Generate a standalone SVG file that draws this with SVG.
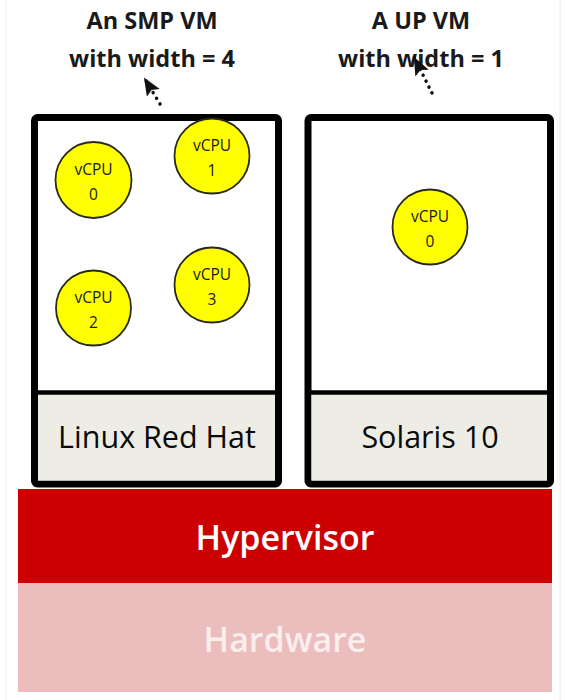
<svg xmlns="http://www.w3.org/2000/svg" width="565" height="700" viewBox="0 0 565 700">
  <style>
    .vm { fill: #ffffff; stroke: #000000; stroke-width: 7; }
    .os { fill: #eeede5; }
    .div { stroke: #000000; stroke-width: 4.5; }
    .cpu { fill: #ffff00; stroke: #2a2a1a; stroke-width: 1.8; }
    .cpuT { font-family: "Open Sans", "Liberation Sans", sans-serif; font-size: 15.5px; fill: #1a1a1a; text-anchor: middle; }
    .lbl { font-family: "Open Sans", "Liberation Sans", sans-serif; font-size: 23.5px; font-weight: 700; fill: #1a1a1a; text-anchor: middle; }
    .osT { font-family: "Open Sans", "Liberation Sans", sans-serif; font-size: 30.5px; fill: #0a0a0a; text-anchor: middle; }
    .layerT { font-family: "Open Sans", "Liberation Sans", sans-serif; font-size: 34px; font-weight: 600; text-anchor: middle; }
    .dots { fill: none; stroke: #111111; stroke-width: 3.5; stroke-linecap: round; stroke-dasharray: 0.1 6.5; }
  </style>
  <defs>
    <marker id="head" markerUnits="userSpaceOnUse" markerWidth="20" markerHeight="18" refX="18" refY="9" orient="auto">
      <path d="M0,1.5 L18,9 L0,16.5 L3.5,9 Z" fill="#111111"/>
    </marker>
  </defs>

  <rect x="0" y="0" width="565" height="700" fill="#ffffff"/>
  <line x1="6" y1="0" x2="6" y2="700" stroke="#ececec" stroke-width="1"/>
  <line x1="560" y1="0" x2="560" y2="700" stroke="#ececec" stroke-width="1"/>

  <g id="label-smp">
    <text class="lbl" x="152" y="29">An SMP VM</text>
    <text class="lbl" x="152" y="67">with width = 4</text>
  </g>
  <g id="label-up">
    <text class="lbl" x="421" y="29">A UP VM</text>
    <text class="lbl" x="421" y="67">with width = 1</text>
  </g>

  <g id="vm-smp">
    <rect class="vm" x="34.5" y="117.5" width="244" height="366.5" rx="3"/>
    <rect class="os" x="38" y="392.5" width="237" height="88"/>
    <line class="div" x1="36" y1="392.5" x2="277" y2="392.5"/>
    <text class="osT" x="157" y="448">Linux Red Hat</text>
  </g>

  <g id="vm-up">
    <rect class="vm" x="308" y="117.5" width="242.5" height="366.5" rx="3"/>
    <rect class="os" x="311.5" y="392.5" width="235.5" height="88"/>
    <line class="div" x1="310" y1="392.5" x2="549" y2="392.5"/>
    <text class="osT" x="430" y="448">Solaris 10</text>
  </g>

  <g id="vcpu0-smp">
    <circle class="cpu" cx="93.5" cy="180" r="38"/>
    <text class="cpuT" x="93.5" y="175">vCPU</text>
    <text class="cpuT" x="93.5" y="200">0</text>
  </g>
  <g id="vcpu1-smp">
    <circle class="cpu" cx="212" cy="156" r="37.5"/>
    <text class="cpuT" x="212" y="151">vCPU</text>
    <text class="cpuT" x="212" y="176">1</text>
  </g>
  <g id="vcpu2-smp">
    <circle class="cpu" cx="93.5" cy="308" r="37.5"/>
    <text class="cpuT" x="93.5" y="303">vCPU</text>
    <text class="cpuT" x="93.5" y="328">2</text>
  </g>
  <g id="vcpu3-smp">
    <circle class="cpu" cx="212" cy="285" r="37.5"/>
    <text class="cpuT" x="212" y="280">vCPU</text>
    <text class="cpuT" x="212" y="305">3</text>
  </g>
  <g id="vcpu0-up">
    <circle class="cpu" cx="430" cy="227" r="37.5"/>
    <text class="cpuT" x="430" y="222">vCPU</text>
    <text class="cpuT" x="430" y="247">0</text>
  </g>

  <g id="hypervisor">
    <rect x="18" y="489" width="534" height="94" fill="#cc0000"/>
    <text class="layerT" x="285" y="550" fill="#ffffff">Hypervisor</text>
  </g>
  <g id="hardware">
    <rect x="18" y="583" width="534" height="109" fill="#ebbdbd"/>
    <text class="layerT" x="285" y="652" fill="#fbeeee">Hardware</text>
  </g>

  <g id="connectors">
    <path class="dots" d="M160,104 L144,77.5" marker-end="url(#head)"/>
    <path class="dots" d="M432,93 L414,57" marker-end="url(#head)"/>
  </g>
</svg>
